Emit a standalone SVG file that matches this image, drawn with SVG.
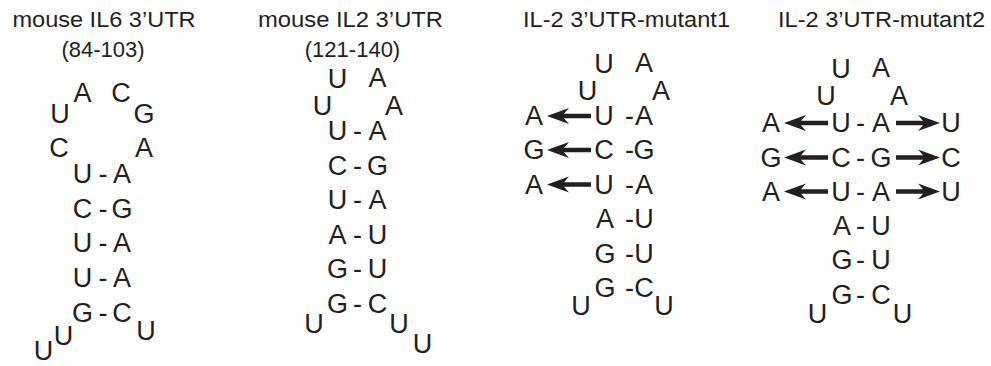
<svg xmlns="http://www.w3.org/2000/svg" xmlns:xlink="http://www.w3.org/1999/xlink" width="991" height="366" viewBox="0 0 991 366">
<style>
text{font-family:"Liberation Sans",Arial,Helvetica,sans-serif;fill:#231f20;}
.t{font-size:22px;text-anchor:middle;}
.n{font-size:27px;text-anchor:middle;}
.arr{fill:#231f20;}
</style>
<defs>
<path id="arrL" d="M0,0 L22,-8 L17,-2.2 L44,-2.2 L44,2.2 L17,2.2 L22,8 Z"/>
</defs>
<rect width="991" height="366" fill="#ffffff"/>

<g id="panel-il6">
<text class="t" x="104" y="27" textLength="183" lengthAdjust="spacingAndGlyphs">mouse IL6 3’UTR</text>
<text class="t" x="103" y="57">(84-103)</text>
<text class="n" x="60" y="123">U</text>
<text class="n" x="82.5" y="102">A</text>
<text class="n" x="121" y="102">C</text>
<text class="n" x="144" y="123">G</text>
<text class="n" x="59" y="157">C</text>
<text class="n" x="144" y="157">A</text>
<text class="n" x="82.5" y="183">U</text><text class="n" x="103" y="183">-</text><text class="n" x="122" y="183">A</text>
<text class="n" x="82.5" y="218">C</text><text class="n" x="103" y="218">-</text><text class="n" x="122" y="218">G</text>
<text class="n" x="82.5" y="252">U</text><text class="n" x="103" y="252">-</text><text class="n" x="122" y="252">A</text>
<text class="n" x="82.5" y="287">U</text><text class="n" x="103" y="287">-</text><text class="n" x="122" y="287">A</text>
<text class="n" x="82.5" y="322">G</text><text class="n" x="103" y="322">-</text><text class="n" x="122" y="322">C</text>
<text class="n" x="146" y="340">U</text>
<text class="n" x="63.5" y="345">U</text>
<text class="n" x="43.5" y="360">U</text>
</g>

<g id="panel-il2">
<text class="t" x="350.5" y="27" textLength="185" lengthAdjust="spacingAndGlyphs">mouse IL2 3’UTR</text>
<text class="t" x="352.5" y="57">(121-140)</text>
<text class="n" x="337.5" y="88">U</text>
<text class="n" x="377.5" y="87">A</text>
<text class="n" x="322.5" y="115">U</text>
<text class="n" x="394" y="115">A</text>
<text class="n" x="337.5" y="140">U</text><text class="n" x="357.5" y="140">-</text><text class="n" x="377.5" y="140">A</text>
<text class="n" x="337.5" y="175">C</text><text class="n" x="357.5" y="175">-</text><text class="n" x="377.5" y="175">G</text>
<text class="n" x="337.5" y="209">U</text><text class="n" x="357.5" y="209">-</text><text class="n" x="377.5" y="209">A</text>
<text class="n" x="337.5" y="243.5">A</text><text class="n" x="357.5" y="243.5">-</text><text class="n" x="377.5" y="243.5">U</text>
<text class="n" x="337.5" y="278">G</text><text class="n" x="357.5" y="278">-</text><text class="n" x="377.5" y="278">U</text>
<text class="n" x="337.5" y="313">G</text><text class="n" x="357.5" y="313">-</text><text class="n" x="377.5" y="313">C</text>
<text class="n" x="314" y="333">U</text>
<text class="n" x="399" y="333">U</text>
<text class="n" x="422.5" y="353">U</text>
</g>

<g id="panel-mut1">
<text class="t" x="626.5" y="27" textLength="207" lengthAdjust="spacingAndGlyphs">IL-2 3’UTR-mutant1</text>
<text class="n" x="604" y="73">U</text>
<text class="n" x="644" y="72">A</text>
<text class="n" x="587.5" y="100">U</text>
<text class="n" x="661" y="100">A</text>
<text class="n" x="534" y="125">A</text><text class="n" x="604" y="125">U</text><text class="n" x="629.5" y="125">-</text><text class="n" x="644" y="125">A</text>
<text class="n" x="534" y="159">G</text><text class="n" x="604" y="159">C</text><text class="n" x="629.5" y="159">-</text><text class="n" x="644" y="159">G</text>
<text class="n" x="534" y="193.5">A</text><text class="n" x="604" y="193.5">U</text><text class="n" x="629.5" y="193.5">-</text><text class="n" x="644" y="193.5">A</text>
<text class="n" x="605" y="228">A</text><text class="n" x="629.5" y="228">-</text><text class="n" x="644" y="228">U</text>
<text class="n" x="605" y="262.5">G</text><text class="n" x="629.5" y="262.5">-</text><text class="n" x="644" y="262.5">U</text>
<text class="n" x="605" y="297">G</text><text class="n" x="629.5" y="297">-</text><text class="n" x="644" y="297">C</text>
<text class="n" x="581" y="315">U</text>
<text class="n" x="664" y="315">U</text>
</g>

<g id="panel-mut2">
<text class="t" x="881.5" y="27" textLength="207" lengthAdjust="spacingAndGlyphs">IL-2 3’UTR-mutant2</text>
<text class="n" x="841" y="78">U</text>
<text class="n" x="881" y="77">A</text>
<text class="n" x="826" y="105">U</text>
<text class="n" x="899" y="105">A</text>
<text class="n" x="771" y="132">A</text><text class="n" x="841" y="132">U</text><text class="n" x="860.5" y="132">-</text><text class="n" x="881" y="132">A</text><text class="n" x="951" y="132">U</text>
<text class="n" x="771" y="166.5">G</text><text class="n" x="841" y="166.5">C</text><text class="n" x="860.5" y="166.5">-</text><text class="n" x="881" y="166.5">G</text><text class="n" x="951" y="166.5">C</text>
<text class="n" x="771" y="200.5">A</text><text class="n" x="841" y="200.5">U</text><text class="n" x="860.5" y="200.5">-</text><text class="n" x="881" y="200.5">A</text><text class="n" x="951" y="200.5">U</text>
<text class="n" x="842" y="234.5">A</text><text class="n" x="860.5" y="234.5">-</text><text class="n" x="881" y="234.5">U</text>
<text class="n" x="842" y="269">G</text><text class="n" x="860.5" y="269">-</text><text class="n" x="881" y="269">U</text>
<text class="n" x="842" y="303.5">G</text><text class="n" x="860.5" y="303.5">-</text><text class="n" x="881" y="303.5">C</text>
<text class="n" x="817.5" y="323">U</text>
<text class="n" x="902.5" y="323">U</text>
</g>

<g id="connectors" class="arr">
<use xlink:href="#arrL" href="#arrL" transform="translate(547,116)"/>
<use xlink:href="#arrL" href="#arrL" transform="translate(547,150)"/>
<use xlink:href="#arrL" href="#arrL" transform="translate(547,184.5)"/>
<use xlink:href="#arrL" href="#arrL" transform="translate(784,123)"/>
<use xlink:href="#arrL" href="#arrL" transform="translate(784,157.5)"/>
<use xlink:href="#arrL" href="#arrL" transform="translate(784,191.5)"/>
<use xlink:href="#arrL" href="#arrL" transform="translate(940,123) scale(-1,1)"/>
<use xlink:href="#arrL" href="#arrL" transform="translate(940,157.5) scale(-1,1)"/>
<use xlink:href="#arrL" href="#arrL" transform="translate(940,191.5) scale(-1,1)"/>
</g>
</svg>
